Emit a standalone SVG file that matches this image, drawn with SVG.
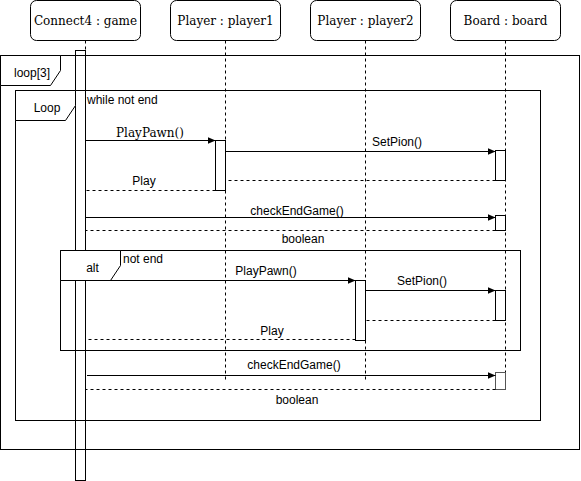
<svg xmlns="http://www.w3.org/2000/svg" width="581" height="481" viewBox="0 0 581 481">
<style>
.hdr{fill:#fff;stroke:#000;stroke-width:1}
.ht{font-family:"DejaVu Serif",serif;font-size:12px;fill:#000;text-anchor:middle}
.life{stroke:#000;stroke-width:1;stroke-dasharray:3,3;fill:none}
.act{fill:#fff;stroke:#000;stroke-width:1}
.frame{fill:none;stroke:#000;stroke-width:1}
.tab{fill:#fff;stroke:#000;stroke-width:1}
.msg{stroke:#000;stroke-width:1;fill:none;marker-end:url(#blk)}
.ret{stroke:#000;stroke-width:1;fill:none;stroke-dasharray:3,3}
.t{font-family:"Liberation Sans",Arial,sans-serif;font-size:12px;fill:#000}
.m{text-anchor:middle}
.s{font-family:"DejaVu Serif",serif;font-size:12px;fill:#000;text-anchor:middle}
</style>
<defs>
<marker id="blk" markerUnits="userSpaceOnUse" markerWidth="8" markerHeight="8" refX="8" refY="4" orient="auto">
<path d="M0,0.5 L8,4 L0,7.5 Z" fill="#000"/>
</marker>
</defs>
<rect width="581" height="481" fill="#fff"/>

<g id="game">
<rect class="hdr" x="30.5" y="0.5" width="110" height="40" rx="6"/>
<text class="ht" x="85.5" y="25">Connect4 : game</text>
<line class="life" x1="85.5" y1="40.5" x2="85.5" y2="50.5"/>
<rect class="act" x="75.5" y="50.5" width="10" height="430"/>
</g>
<g id="player1">
<rect class="hdr" x="170.5" y="0.5" width="110" height="40" rx="6"/>
<text class="ht" x="225.5" y="25">Player : player1</text>
<line class="life" x1="225.5" y1="40.5" x2="225.5" y2="379.5"/>
<rect class="act" x="215.5" y="140.5" width="10" height="50"/>
</g>
<g id="player2">
<rect class="hdr" x="310.5" y="0.5" width="110" height="40" rx="6"/>
<text class="ht" x="365.5" y="25">Player : player2</text>
<line class="life" x1="365.5" y1="40.5" x2="365.5" y2="379.5"/>
<rect class="act" x="355.5" y="280.5" width="10" height="60"/>
</g>
<g id="board">
<rect class="hdr" x="450.5" y="0.5" width="110" height="40" rx="6"/>
<text class="ht" x="505.5" y="25">Board : board</text>
<line class="life" x1="505.5" y1="40.5" x2="505.5" y2="372.5"/>
<rect class="act" x="495.5" y="150.5" width="10" height="30"/>
<rect class="act" x="495.5" y="215.5" width="10" height="15"/>
<rect class="act" x="495.5" y="290.5" width="10" height="30"/>
<rect class="act" x="495.5" y="372.5" width="10" height="17" style="stroke:#555"/>
</g>

<g id="frame-loop3">
<rect class="frame" x="0.5" y="55.5" width="579" height="394"/>
<path class="tab" d="M0.5,55.5 H60.5 V70.5 L50.5,85.5 H0.5 Z"/>
<text class="t m" x="32" y="77">loop[3]</text>
</g>
<g id="frame-loop">
<rect class="frame" x="15.5" y="90.5" width="525" height="330"/>
<path class="tab" d="M15.5,90.5 H75.5 V105.5 L65.5,120.5 H15.5 Z"/>
<text class="t m" x="47" y="112">Loop</text>
<text class="t" x="87" y="104">while not end</text>
</g>
<g id="frame-alt">
<rect class="frame" x="60.5" y="250.5" width="460" height="100"/>
<path class="tab" d="M60.5,250.5 H120.5 V265.5 L110.5,280.5 H60.5 Z"/>
<text class="t m" x="92.5" y="272">alt</text>
<text class="t" x="123" y="263">not end</text>
</g>

<g id="connectors">
<line class="msg" x1="85.5" y1="140.5" x2="215.5" y2="140.5"/>
<text class="s" x="150" y="137">PlayPawn()</text>
<line class="msg" x1="225.5" y1="151.5" x2="495.5" y2="151.5"/>
<text class="t m" x="397" y="146">SetPion()</text>
<line class="ret" x1="495.5" y1="180.5" x2="225.5" y2="180.5"/>
<line class="ret" x1="215.5" y1="190.5" x2="85.5" y2="190.5"/>
<text class="t m" x="144" y="185">Play</text>
<line class="msg" x1="85.5" y1="217.5" x2="495.5" y2="217.5"/>
<text class="t m" x="297" y="215">checkEndGame()</text>
<line class="ret" x1="495.5" y1="230.5" x2="85.5" y2="230.5"/>
<text class="t m" x="303" y="243">boolean</text>
<line class="msg" x1="85.5" y1="280.5" x2="355.5" y2="280.5"/>
<text class="t m" x="266" y="275">PlayPawn()</text>
<line class="msg" x1="365.5" y1="290.5" x2="495.5" y2="290.5"/>
<text class="t m" x="422" y="285">SetPion()</text>
<line class="ret" x1="495.5" y1="320.5" x2="365.5" y2="320.5"/>
<line class="ret" x1="355.5" y1="339.5" x2="85.5" y2="339.5"/>
<text class="t m" x="272" y="335">Play</text>
<line class="msg" x1="87" y1="375.5" x2="495.5" y2="375.5"/>
<text class="t m" x="294" y="369">checkEndGame()</text>
<line class="ret" x1="495.5" y1="389.5" x2="85.5" y2="389.5"/>
<text class="t m" x="297" y="404">boolean</text>
</g>
</svg>
